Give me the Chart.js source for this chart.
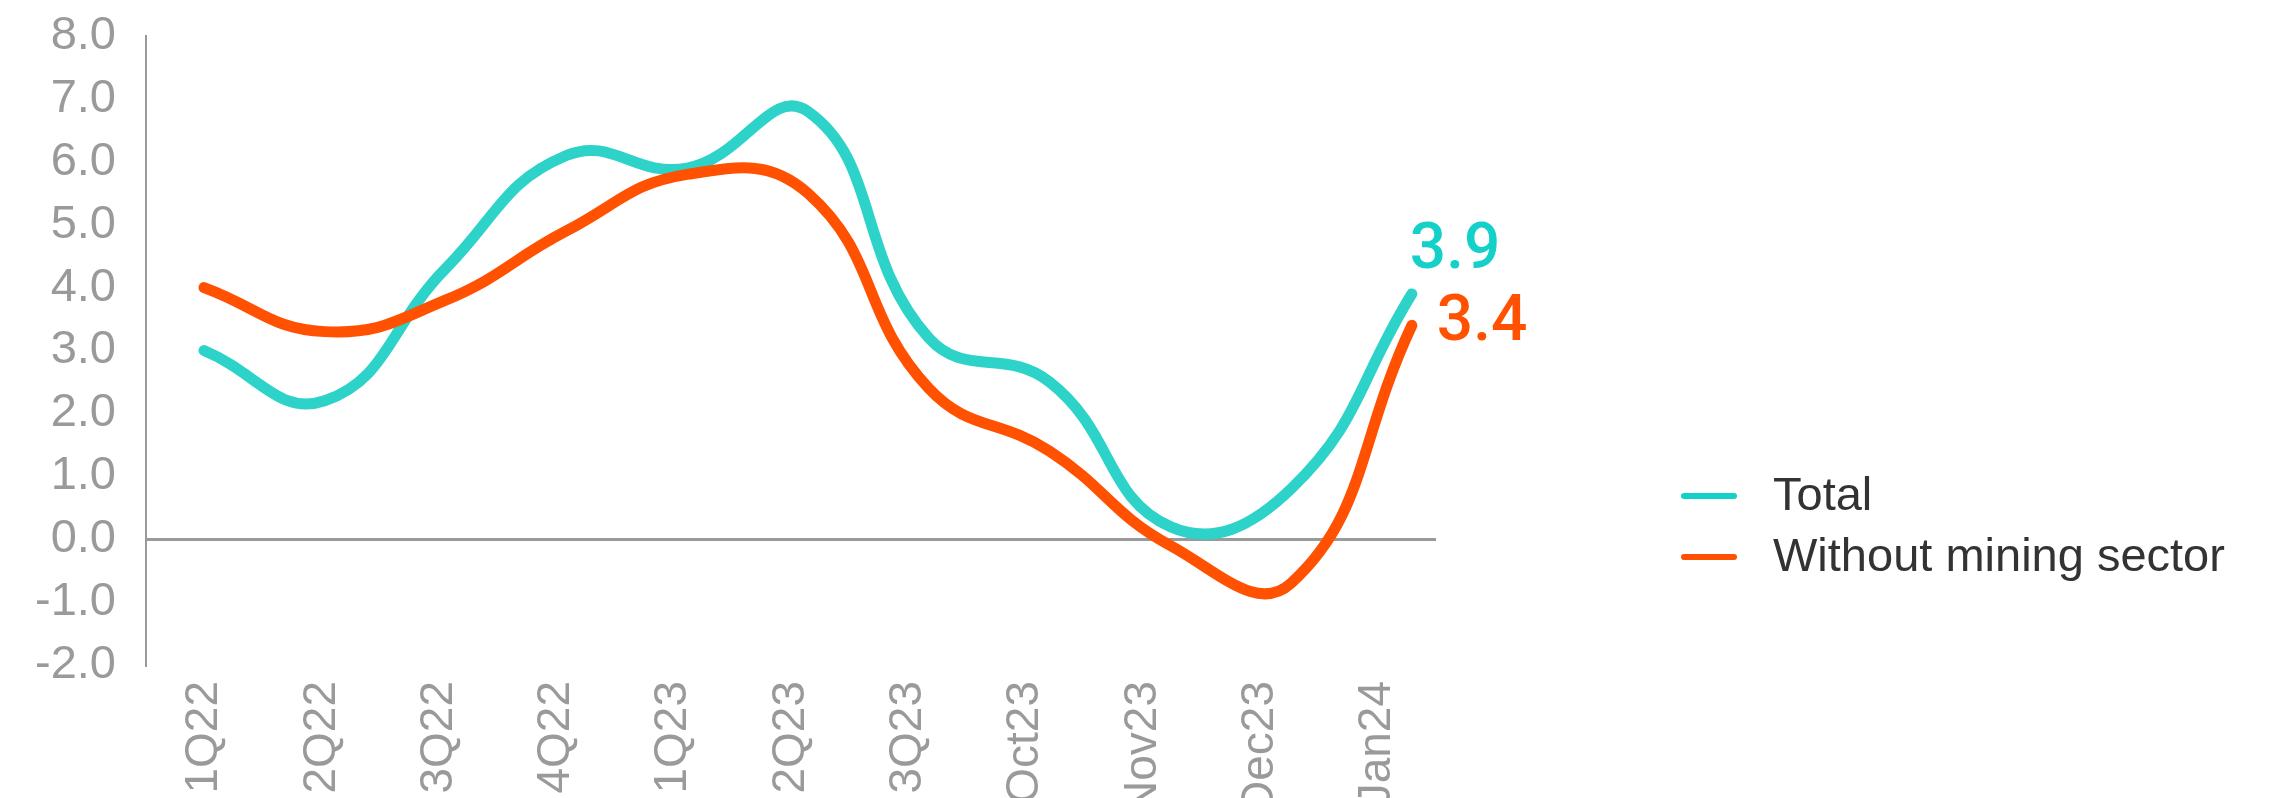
<!DOCTYPE html>
<html>
<head>
<meta charset="utf-8">
<script src="https://cdn.jsdelivr.net/npm/chart.js@4.4.0/dist/chart.umd.min.js"></script>
<style>
html, body { margin: 0; padding: 0; background: #fff; overflow: hidden; }
#wrap { position: relative; width: 2280px; height: 798px; }
</style>
</head>
<body>
<div id="wrap"><canvas id="myChart" width="2280" height="798"></canvas></div>
<script>
// data
const categories = ['1Q22', '2Q22', '3Q22', '4Q22', '1Q23', '2Q23', '3Q23', 'Oct23', 'Nov23', 'Dec23', 'Jan24'];
const totalValues = [3.0, 2.2, 4.3, 6.1, 5.9, 6.8, 3.2, 2.5, 0.2, 0.8, 3.9];
const withoutMiningValues = [4.0, 3.3, 3.8, 4.9, 5.8, 5.5, 2.4, 1.4, -0.1, -0.7, 3.4];
const seriesNames = ['Total', 'Without mining sector'];
const yTicks = [-2, -1, 0, 1, 2, 3, 4, 5, 6, 7, 8];

const lineColors = ['#2dd3c9', '#ff5100'];
const labelColors = ['#13d0c8', '#ff5100'];
const gray = '#9a9a9a';

const endLabels = {
  id: 'endLabels',
  afterDatasetsDraw(chart) {
    const ctx = chart.ctx;
    chart.data.datasets.forEach(function(ds, i) {
      const meta = chart.getDatasetMeta(i);
      const pt = meta.data[meta.data.length - 1];
      const v = ds.data[ds.data.length - 1].y;
      ctx.save();
      ctx.font = '500 64px Roboto';
      ctx.fillStyle = labelColors[i];
      ctx.textAlign = 'left';
      ctx.textBaseline = 'alphabetic';
      if (i === 0) {
        ctx.fillText(v.toFixed(1), pt.x - 2, pt.y - 26);
      } else {
        ctx.fillText(v.toFixed(1), pt.x + 25, pt.y + 15);
      }
      ctx.restore();
    });
  }
};

const sideLegend = {
  id: 'sideLegend',
  afterDraw(chart) {
    const ctx = chart.ctx;
    const lx = 1681, rows = [496, 557];
    chart.data.datasets.forEach(function(ds, i) {
      const y = rows[i];
      ctx.save();
      ctx.strokeStyle = labelColors[i];
      ctx.lineWidth = 6;
      ctx.lineCap = 'round';
      ctx.beginPath();
      ctx.moveTo(lx + 3, y);
      ctx.lineTo(lx + 53, y);
      ctx.stroke();
      ctx.fillStyle = '#333333';
      ctx.font = '47px "Liberation Sans"';
      ctx.textAlign = 'left';
      ctx.textBaseline = 'middle';
      ctx.fillText(ds.label, 1773, y + 1);
      ctx.restore();
    });
  }
};

const ctx = document.getElementById('myChart').getContext('2d');
const myChart = new Chart(ctx, {
  type: 'line',
  data: {
    labels: categories,
    datasets: [{
      label: seriesNames[0],
      data: totalValues.map((v, i) => ({ x: i, y: v })),
      xAxisID: 'xd',
      borderColor: lineColors[0],
      borderWidth: 11,
      tension: 0.45,
      pointRadius: 0,
      borderCapStyle: 'round',
      borderJoinStyle: 'round',
      fill: false,
      order: 2
    }, {
      label: seriesNames[1],
      data: withoutMiningValues.map((v, i) => ({ x: i, y: v })),
      xAxisID: 'xd',
      borderColor: lineColors[1],
      borderWidth: 11,
      tension: 0.45,
      pointRadius: 0,
      borderCapStyle: 'round',
      borderJoinStyle: 'round',
      fill: false,
      order: 1
    }]
  },
  options: {
    responsive: false,
    animation: false,
    devicePixelRatio: 1,
    layout: { padding: { top: 36, right: 844, left: 0, bottom: 0 } },
    scales: {
      x: {
        type: 'category',
        offset: true,
        grid: { display: false },
        border: { display: false },
        ticks: {
          color: gray,
          font: { family: 'Liberation Sans', size: 46 },
          minRotation: 90,
          maxRotation: 90,
          autoSkip: false,
          padding: 8
        },
        afterFit: function(s) { s.height = 133; s.paddingLeft = 0; s.paddingRight = 0; }
      },
      xd: {
        type: 'linear',
        display: false,
        min: -0.48,
        max: 10.2
      },
      y: {
        min: yTicks[0],
        max: yTicks[yTicks.length - 1],
        ticks: {
          stepSize: 1,
          color: gray,
          font: { family: 'Liberation Sans', size: 47 },
          padding: 30,
          callback: function(v) { return Number(v).toFixed(1); }
        },
        grid: {
          drawTicks: false,
          lineWidth: 3,
          color: function(c) { return c.tick && c.tick.value === 0 ? gray : 'rgba(0,0,0,0)'; }
        },
        border: { display: true, color: gray, width: 2 },
        afterFit: function(s) { s.width = 146; s.paddingTop = 0; s.paddingBottom = 0; }
      }
    },
    plugins: {
      legend: { display: false },
      tooltip: { enabled: false }
    }
  },
  plugins: [endLabels, sideLegend]
});
</script>
</body>
</html>
